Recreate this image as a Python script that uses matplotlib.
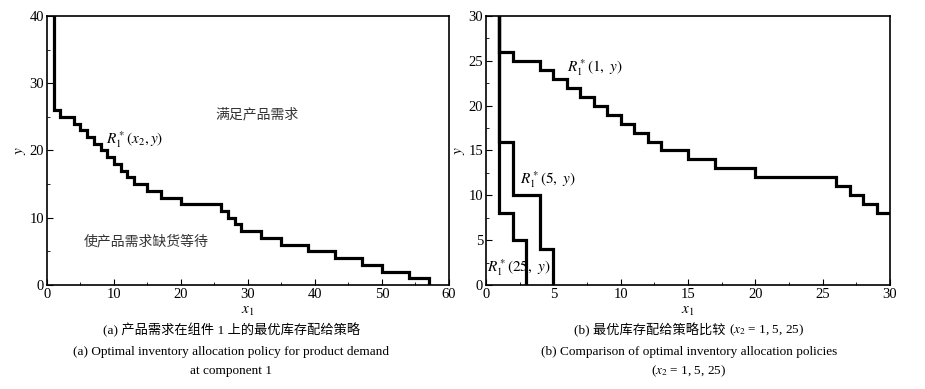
import numpy as np
import matplotlib
matplotlib.use('Agg')
import matplotlib.pyplot as plt

plt.rcParams['font.family'] = ['Liberation Serif', 'Noto Sans CJK SC']
plt.rcParams['mathtext.fontset'] = 'stix'
plt.rcParams['font.size'] = 10

# step curve R1*(x2, y): x1 where the level drops, level after the drop
r_x2 = [1, 1, 2, 4, 5, 6, 7, 8, 9, 10, 11, 12, 13, 15, 17, 20, 26, 27, 28, 29, 32, 35, 39, 43, 47, 50, 54, 57]
r_y2 = [40, 26, 25, 24, 23, 22, 21, 20, 19, 18, 17, 16, 15, 14, 13, 12, 11, 10, 9, 8, 7, 6, 5, 4, 3, 2, 1, 0]

# panel (b): x2 = 1, 5, 25
r1_x = [1, 1, 2, 4, 5, 6, 7, 8, 9, 10, 11, 12, 13, 15, 17, 20, 26, 27, 28, 29, 30]
r1_y = [30, 26, 25, 24, 23, 22, 21, 20, 19, 18, 17, 16, 15, 14, 13, 12, 11, 10, 9, 8, 8]
r5_x = [1, 1, 2, 4, 5]
r5_y = [30, 16, 10, 4, 0]
r25_x = [1, 1, 2, 3]
r25_y = [30, 8, 5, 0]

fig = plt.figure(figsize=(9.25, 3.89), dpi=100)
ax1 = fig.add_axes([0.0508, 0.2674, 0.4346, 0.6915])
ax2 = fig.add_axes([0.5254, 0.2674, 0.4368, 0.6915])

lw = 2.3
ax1.plot(r_x2, r_y2, drawstyle='steps-post', color='black', lw=lw, solid_joinstyle='miter')
ax1.set_xlim(0, 60)
ax1.set_ylim(0, 40)
ax1.set_xticks(np.arange(0, 61, 10))
ax1.set_xticks(np.arange(0, 61, 5), minor=True)
ax1.set_yticks(np.arange(0, 41, 10))
ax1.set_yticks(np.arange(0, 41, 5), minor=True)
ax1.text(8.8, 21.6, r'$R_1^*(x_2, y)$', fontsize=11, va='center')
ax1.text(25.2, 25.3, '满足产品需求', fontsize=10, va='center', color='#333333')
ax1.text(5.5, 6.5, '使产品需求缺货等待', fontsize=10, va='center', color='#333333')

for xs, ys in [(r1_x, r1_y), (r5_x, r5_y), (r25_x, r25_y)]:
    ax2.plot(xs, ys, drawstyle='steps-post', color='black', lw=lw, solid_joinstyle='miter')
ax2.set_xlim(0, 30)
ax2.set_ylim(0, 30)
ax2.set_xticks(np.arange(0, 31, 5))
ax2.set_xticks(np.arange(0, 31, 2.5), minor=True)
ax2.set_yticks(np.arange(0, 31, 5))
ax2.set_yticks(np.arange(0, 31, 2.5), minor=True)
ax2.text(6.0, 24.2, r'$R_1^*(1,\ y)$', fontsize=11, va='center')
ax2.text(2.5, 11.8, r'$R_1^*(5,\ y)$', fontsize=11, va='center')
ax2.text(0.1, 1.9, r'$R_1^*(25,\ y)$', fontsize=11, va='center')

for ax in (ax1, ax2):
    for s in ax.spines.values():
        s.set_linewidth(1.2)
    ax.tick_params(which='both', direction='in', top=False, right=False, labelsize=10.5, pad=2)
    ax.tick_params(which='major', length=4)
    ax.tick_params(which='minor', length=2.5)
    ax.set_xlabel(r'$x_1$', fontsize=11, labelpad=3)
    ax.set_ylabel(r'$y$', fontsize=11, labelpad=1)

# captions
fs = 9.5
fig.text(0.25, 0.152, '(a) 产品需求在组件 1 上的最优库存配给策略', ha='center', va='center', fontsize=fs)
fig.text(0.25, 0.095, '(a) Optimal inventory allocation policy for product demand', ha='center', va='center', fontsize=fs)
fig.text(0.25, 0.045, 'at component 1', ha='center', va='center', fontsize=fs)

# (b) Chinese line: CJK part and math part as two texts, centred together
renderer = fig.canvas.get_renderer()
t1 = fig.text(0, 0.152, '(b) 最优库存配给策略比较 ', ha='left', va='center', fontsize=fs)
t2 = fig.text(0, 0.152, r'($x_2$ = 1, 5, 25)', ha='left', va='center', fontsize=fs)
w1 = t1.get_window_extent(renderer).width / fig.bbox.width
w2 = t2.get_window_extent(renderer).width / fig.bbox.width
x0 = 0.745 - (w1 + w2) / 2
t1.set_x(x0)
t2.set_x(x0 + w1)
fig.text(0.745, 0.095, '(b) Comparison of optimal inventory allocation policies', ha='center', va='center', fontsize=fs)
fig.text(0.745, 0.045, r'($x_2$ = 1, 5, 25)', ha='center', va='center', fontsize=fs)

fig.savefig('out.png', dpi=100)
